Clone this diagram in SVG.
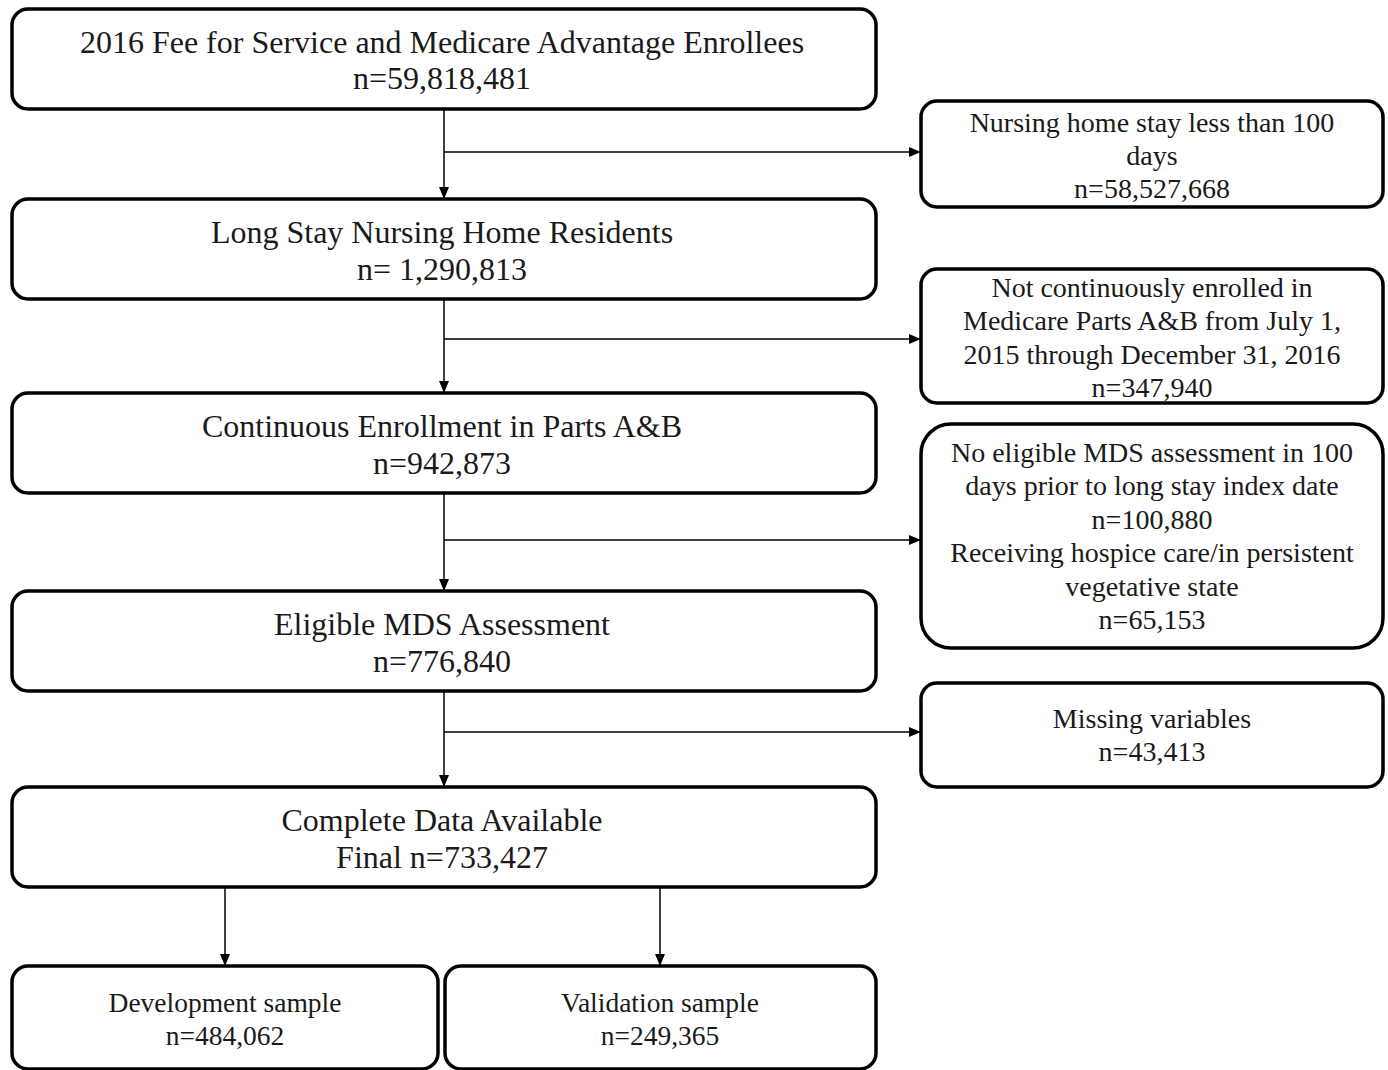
<svg xmlns="http://www.w3.org/2000/svg" width="1388" height="1070" viewBox="0 0 1388 1070" xml:space="preserve">
<defs>
<marker id="ah" markerWidth="12" markerHeight="10" refX="11" refY="5" orient="auto" markerUnits="userSpaceOnUse">
<path d="M0,0 L12,5 L0,10 Z" fill="#000"/>
</marker>
<style>
.box{fill:#fff;stroke:#000;stroke-width:3.5}
.t{font-family:"Liberation Serif","Times New Roman",serif;fill:#1a1a1a;text-anchor:middle}
.m{font-size:32px}
.s{font-size:28px}
.b{font-size:27.5px}
.c{fill:none;stroke:#000;stroke-width:1.5}
</style>
</defs>
<rect width="1388" height="1070" fill="#fff"/>
<g id="connectors">
<line class="c" x1="444" y1="110" x2="444" y2="198" marker-end="url(#ah)"/>
<line class="c" x1="444" y1="152" x2="920" y2="152" marker-end="url(#ah)"/>
<line class="c" x1="444" y1="300" x2="444" y2="392" marker-end="url(#ah)"/>
<line class="c" x1="444" y1="339" x2="920" y2="339" marker-end="url(#ah)"/>
<line class="c" x1="444" y1="494" x2="444" y2="590" marker-end="url(#ah)"/>
<line class="c" x1="444" y1="540" x2="920" y2="540" marker-end="url(#ah)"/>
<line class="c" x1="444" y1="692" x2="444" y2="786" marker-end="url(#ah)"/>
<line class="c" x1="444" y1="732" x2="920" y2="732" marker-end="url(#ah)"/>
<line class="c" x1="225" y1="888" x2="225" y2="965" marker-end="url(#ah)"/>
<line class="c" x1="660" y1="888" x2="660" y2="965" marker-end="url(#ah)"/>
</g>
<g id="n1">
<rect class="box" x="12" y="9" width="864" height="100" rx="16"/>
<text class="t m" x="442" y="53">2016 Fee for Service  and Medicare  Advantage  Enrollees</text>
<text class="t m" x="442" y="89">n=59,818,481</text>
</g>
<g id="s1">
<rect class="box" x="921" y="101" width="462" height="106" rx="16"/>
<text class="t s" x="1152" y="132">Nursing home stay less than 100</text>
<text class="t s" x="1152" y="165">days</text>
<text class="t s" x="1152" y="198">n=58,527,668</text>
</g>
<g id="n2">
<rect class="box" x="12" y="199" width="864" height="100" rx="16"/>
<text class="t m" x="442" y="243">Long Stay  Nursing Home Residents</text>
<text class="t m" x="442" y="280">n= 1,290,813</text>
</g>
<g id="s2">
<rect class="box" x="921" y="269" width="462" height="134" rx="16"/>
<text class="t s" x="1152" y="297">Not continuously enrolled in</text>
<text class="t s" x="1152" y="330">Medicare Parts A&amp;B from July 1,</text>
<text class="t s" x="1152" y="364">2015 through December 31, 2016</text>
<text class="t s" x="1152" y="397">n=347,940</text>
</g>
<g id="n3">
<rect class="box" x="12" y="393" width="864" height="100" rx="16"/>
<text class="t m" x="442" y="437">Continuous Enrollment in Parts A&amp;B</text>
<text class="t m" x="442" y="474">n=942,873</text>
</g>
<g id="s3">
<rect class="box" x="921" y="424" width="462" height="224" rx="30"/>
<text class="t s" x="1152" y="462">No eligible  MDS assessment in 100</text>
<text class="t s" x="1152" y="495">days prior to long stay index date</text>
<text class="t s" x="1152" y="529">n=100,880</text>
<text class="t s" x="1152" y="562">Receiving  hospice care/in  persistent</text>
<text class="t s" x="1152" y="596">vegetative  state</text>
<text class="t s" x="1152" y="629">n=65,153</text>
</g>
<g id="n4">
<rect class="box" x="12" y="591" width="864" height="100" rx="16"/>
<text class="t m" x="442" y="635">Eligible MDS  Assessment</text>
<text class="t m" x="442" y="672">n=776,840</text>
</g>
<g id="s4">
<rect class="box" x="921" y="683" width="462" height="104" rx="16"/>
<text class="t s" x="1152" y="728">Missing  variables</text>
<text class="t s" x="1152" y="761">n=43,413</text>
</g>
<g id="n5">
<rect class="box" x="12" y="787" width="864" height="100" rx="16"/>
<text class="t m" x="442" y="831">Complete Data  Available</text>
<text class="t m" x="442" y="868">Final n=733,427</text>
</g>
<g id="d1">
<rect class="box" x="12" y="966" width="426" height="103" rx="16"/>
<text class="t b" x="225" y="1012">Development  sample</text>
<text class="t b" x="225" y="1045">n=484,062</text>
</g>
<g id="d2">
<rect class="box" x="445" y="966" width="431" height="103" rx="16"/>
<text class="t b" x="660" y="1012">Validation  sample</text>
<text class="t b" x="660" y="1045">n=249,365</text>
</g>
</svg>
